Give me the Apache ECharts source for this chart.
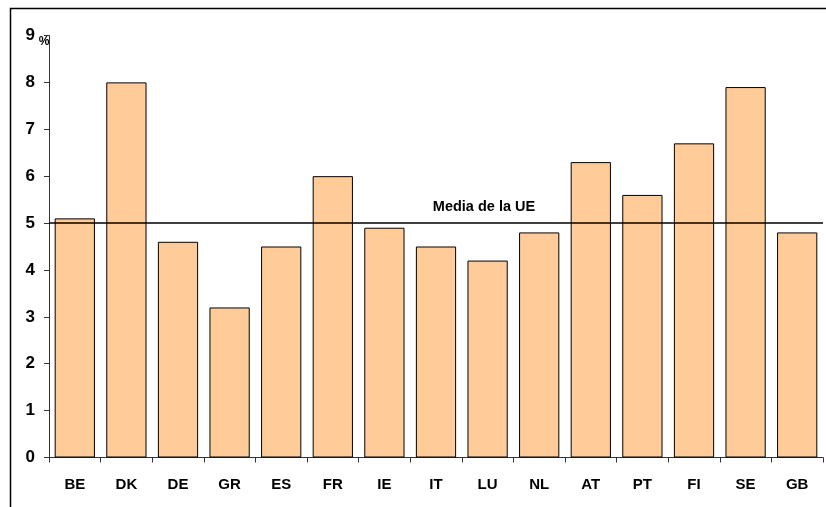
<!DOCTYPE html>
<html>
<head>
<meta charset="utf-8">
<script src="https://cdn.jsdelivr.net/npm/echarts@6/dist/echarts.min.js"></script>
<style>
  html, body { margin: 0; padding: 0; background: #fff; }
  #chart { width: 826px; height: 507px; }
</style>
</head>
<body>
<div id="chart"></div>
<script>
// países y valores (%)
const countries = ['BE', 'DK', 'DE', 'GR', 'ES', 'FR', 'IE', 'IT', 'LU', 'NL', 'AT', 'PT', 'FI', 'SE', 'GB']
const values = [5.1, 8.0, 4.6, 3.2, 4.5, 6.0, 4.9, 4.5, 4.2, 4.8, 6.3, 5.6, 6.7, 7.9, 4.8]
const euAverage = 5
const euLabel = 'Media de la UE'
const yTicks = [0, 1, 2, 3, 4, 5, 6, 7, 8, 9]

const fontFamily = 'Liberation Sans, Arial, sans-serif'

const chart = echarts.init(document.getElementById('chart'))

const option = {
  animation: false,
  backgroundColor: '#fff',
  graphic: [
    {
      // marco exterior
      type: 'rect',
      shape: { x: 10.5, y: 8.5, width: 840, height: 520 },
      style: { fill: 'none', stroke: '#000', lineWidth: 1.5 },
      silent: true
    }
  ],
  grid: {
    left: 49,
    right: 3,
    top: 35.5,
    bottom: 49.5
  },
  xAxis: {
    type: 'category',
    data: countries,
    axisLine: { lineStyle: { color: '#333', width: 1 } },
    axisTick: { show: true, length: 5, inside: false, alignWithLabel: false, lineStyle: { color: '#333' } },
    axisLabel: {
      margin: 20,
      color: '#000',
      fontSize: 15,
      fontWeight: 'bold',
      fontFamily
    },
    splitLine: { show: false }
  },
  yAxis: {
    type: 'value',
    min: yTicks[0],
    max: yTicks[yTicks.length - 1],
    interval: 1,
    name: '%',
    nameLocation: 'end',
    nameGap: -6,
    nameMoveOverlap: false,
    nameTextStyle: {
      color: '#000',
      fontSize: 12,
      fontWeight: 'bold',
      fontFamily,
      align: 'center',
      verticalAlign: 'middle',
      padding: [0, 10, 0, 0]
    },
    axisLine: { show: true, lineStyle: { color: '#333', width: 1 } },
    axisTick: { show: true, length: 5, lineStyle: { color: '#333' } },
    axisLabel: {
      margin: 14,
      color: '#000',
      fontSize: 17,
      fontWeight: 'bold',
      fontFamily
    },
    splitLine: { show: false }
  },
  series: [
    {
      type: 'bar',
      data: values,
      barCategoryGap: '22%',
      itemStyle: {
        color: '#FFCC99',
        borderColor: '#000',
        borderWidth: 1
      },
      markLine: {
        silent: true,
        symbol: ['none', 'none'],
        lineStyle: { color: '#000', width: 1.5, type: 'solid' },
        label: {
          show: true,
          position: 'insideMiddleTop',
          formatter: euLabel,
          color: '#000',
          fontSize: 14.5,
          fontWeight: 'bold',
          fontFamily,
          distance: 9,
          padding: [0, 0, 0, 96]
        },
        data: [{ yAxis: euAverage }]
      }
    }
  ]
}

chart.setOption(option)
</script>
</body>
</html>
